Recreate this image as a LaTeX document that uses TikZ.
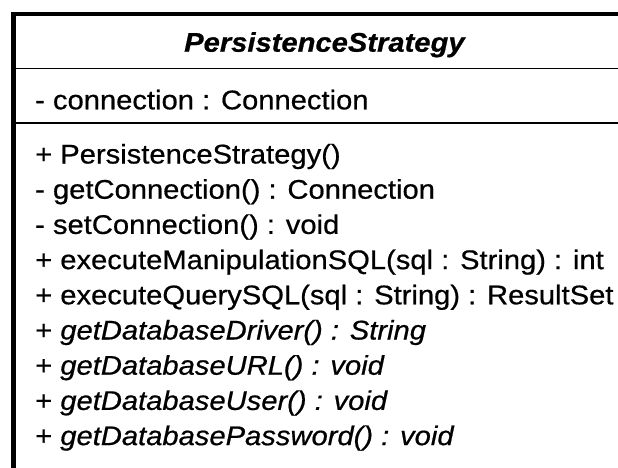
\documentclass[tikz,border=0pt]{standalone}
\usepackage{fontspec}
\setmainfont{Liberation Sans}[FakeStretch=1.08,FakeBold=0.6]
\begin{document}
\begin{tikzpicture}[x=1pt,y=-1pt,
  member/.style={anchor=base west,inner sep=0pt,font=\fontsize{27}{35}\selectfont},
  classname/.style={anchor=base west,inner sep=0pt,font=\fontsize{27}{35}\selectfont\bfseries\itshape},
  frame/.style={line width=4.5pt,line cap=rect},
  divider/.style={line width=1.6pt}]
  \useasboundingbox[fill=white] (0,0) rectangle (618,467);

  % class frame: heavy top and left edges, thin compartment dividers
  \coordinate (tl) at (13.5,14);
  \coordinate (tr) at (640,14);
  \coordinate (bl) at (13.5,475);
  \draw[frame] (bl) -- (tl) -- (tr);
  \coordinate (d1l) at (13.5,68.5);
  \coordinate (d1r) at (640,68.5);
  \coordinate (d2l) at (13.5,123);
  \coordinate (d2r) at (640,123);
  \draw[divider] (d1l) -- (d1r);
  \draw[divider] (d2l) -- (d2r);

  % name compartment
  \node[classname] (name) at (184,51.7) {PersistenceStrategy};

  % attribute compartment
  \node[member] (attr) at (35,109.3) {- connection : Connection};

  % operation compartment
  \node[member] (op1) at (35,163.5) {+ PersistenceStrategy()};
  \node[member] (op2) at (35,198.7) {- getConnection() : Connection};
  \node[member] (op3) at (35,233.9) {- setConnection() : void};
  \node[member] (op4) at (35,269.1) {+ executeManipulationSQL(sql : String) : int};
  \node[member] (op5) at (35,304.3) {+ executeQuerySQL(sql : String) : ResultSet};
  \node[member] (op6) at (35,339.5) {+ \textit{getDatabaseDriver() : String}};
  \node[member] (op7) at (35,374.7) {+ \textit{getDatabaseURL() : void}};
  \node[member] (op8) at (35,409.9) {+ \textit{getDatabaseUser() : void}};
  \node[member] (op9) at (35,445.1) {+ \textit{getDatabasePassword() : void}};
\end{tikzpicture}
\end{document}
